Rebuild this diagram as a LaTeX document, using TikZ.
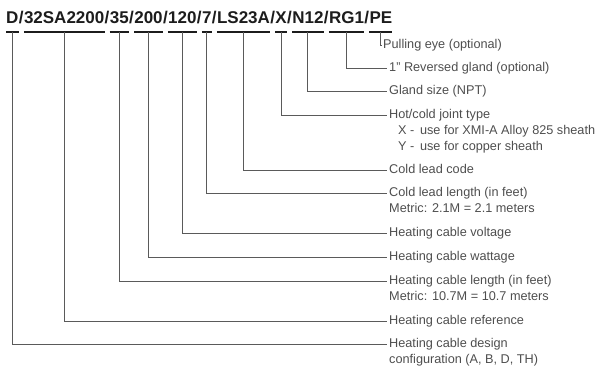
\documentclass[tikz,border=0pt]{standalone}
\usepackage{fontspec}
\setmainfont{Liberation Sans}
\usepackage{tikz}
\usetikzlibrary{positioning}
\definecolor{codeink}{HTML}{1C1C1C}
\definecolor{noteink}{HTML}{4E4E4E}
\definecolor{wireink}{HTML}{5A5A5A}
\tikzstyle{code} = [inner sep=0pt, text depth=0pt, text=codeink, font=\fontsize{17}{20}\selectfont\bfseries]
\tikzstyle{note} = [anchor=west, inner xsep=2pt, inner ysep=1.5pt, text height=9.5pt, text depth=3pt, text=noteink, font=\fontsize{12.7}{15.5}\selectfont]
\tikzstyle{bar} = [line width=2pt, draw=codeink]
\tikzstyle{wire} = [line width=0.9pt, draw=wireink]

\begin{document}
\begin{tikzpicture}[x=1pt, y=-1pt, node distance = 0pt]
		\useasboundingbox (0,0) rectangle (598,366);
		\node (Config) [code, anchor=base west] at (6,23.5) {D};
		\node (Slash1) [code, base right = of Config] {/};
		\node (CableRef) [code, base right = of Slash1] {32SA2200};
		\node (Slash2) [code, base right = of CableRef] {/};
		\node (CableLength) [code, base right = of Slash2] {35};
		\node (Slash3) [code, base right = of CableLength] {/};
		\node (Wattage) [code, base right = of Slash3] {200};
		\node (Slash4) [code, base right = of Wattage] {/};
		\node (Voltage) [code, base right = of Slash4] {120};
		\node (Slash5) [code, base right = of Voltage] {/};
		\node (LeadLength) [code, base right = of Slash5] {7};
		\node (Slash6) [code, base right = of LeadLength] {/};
		\node (LeadCode) [code, base right = of Slash6] {LS23A};
		\node (Slash7) [code, base right = of LeadCode] {/};
		\node (Joint) [code, base right = of Slash7] {X};
		\node (Slash8) [code, base right = of Joint] {/};
		\node (Gland) [code, base right = of Slash8] {N12};
		\node (Slash9) [code, base right = of Gland] {/};
		\node (Reversed) [code, base right = of Slash9] {RG1};
		\node (Slash10) [code, base right = of Reversed] {/};
		\node (Eye) [code, base right = of Slash10] {PE};
		\node (EyeNote) [note] at (381,45) {Pulling eye (optional)};
		\node (ReversedNote) [note] at (387,68) {1" Reversed gland (optional)};
		\node (GlandNote) [note] at (387,91.5) {Gland size (NPT)};
		\node (JointNote) [note] at (387,115) {Hot/cold joint type};
		\node (JointNoteX) [note, anchor=north west] at ([xshift=9pt]JointNote.south west) {X - \,use for XMI-A Alloy 825 sheath};
		\node (JointNoteY) [note, anchor=north west] at (JointNoteX.south west) {Y - \,use for copper sheath};
		\node (LeadCodeNote) [note] at (387,170.5) {Cold lead code};
		\node (LeadLengthNote) [note] at (387,193.5) {Cold lead length (in feet)};
		\node (LeadLengthNote2) [note, anchor=north west] at (LeadLengthNote.south west) {Metric: 2.1M = 2.1 meters};
		\node (VoltageNote) [note] at (387,233.5) {Heating cable voltage};
		\node (WattageNote) [note] at (387,257) {Heating cable wattage};
		\node (CableLengthNote) [note] at (387,281) {Heating cable length (in feet)};
		\node (CableLengthNote2) [note, anchor=north west] at (CableLengthNote.south west) {Metric: 10.7M = 10.7 meters};
		\node (CableRefNote) [note] at (387,321) {Heating cable reference};
		\node (ConfigNote) [note] at (387,344.5) {Heating cable design};
		\node (ConfigNote2) [note, anchor=north west] at (ConfigNote.south west) {configuration (A, B, D, TH)};
		\draw [bar] ([yshift=-8.2pt]Config.south west) -- ([yshift=-8.2pt]Config.south east);
		\draw [bar] ([yshift=-8.2pt]CableRef.south west) -- ([yshift=-8.2pt]CableRef.south east);
		\draw [bar] ([yshift=-8.2pt]CableLength.south west) -- ([yshift=-8.2pt]CableLength.south east);
		\draw [bar] ([yshift=-8.2pt]Wattage.south west) -- ([yshift=-8.2pt]Wattage.south east);
		\draw [bar] ([yshift=-8.2pt]Voltage.south west) -- ([yshift=-8.2pt]Voltage.south east);
		\draw [bar] ([yshift=-8.2pt]LeadLength.south west) -- ([yshift=-8.2pt]LeadLength.south east);
		\draw [bar] ([yshift=-8.2pt]LeadCode.south west) -- ([yshift=-8.2pt]LeadCode.south east);
		\draw [bar] ([yshift=-8.2pt]Joint.south west) -- ([yshift=-8.2pt]Joint.south east);
		\draw [bar] ([yshift=-8.2pt]Gland.south west) -- ([yshift=-8.2pt]Gland.south east);
		\draw [bar] ([yshift=-8.2pt]Reversed.south west) -- ([yshift=-8.2pt]Reversed.south east);
		\draw [bar] ([yshift=-8.2pt]Eye.south west) -- ([yshift=-8.2pt]Eye.south east);
		\draw [wire] ([yshift=-8.2pt]Eye.south) |- (EyeNote.west);
		\draw [wire] ([yshift=-8.2pt]Reversed.south) |- (ReversedNote.west);
		\draw [wire] ([yshift=-8.2pt]Gland.south) |- (GlandNote.west);
		\draw [wire] ([yshift=-8.2pt]Joint.south) |- (JointNote.west);
		\draw [wire] ([yshift=-8.2pt]LeadCode.south) |- (LeadCodeNote.west);
		\draw [wire] ([yshift=-8.2pt]LeadLength.south) |- (LeadLengthNote.west);
		\draw [wire] ([yshift=-8.2pt]Voltage.south) |- (VoltageNote.west);
		\draw [wire] ([yshift=-8.2pt]Wattage.south) |- (WattageNote.west);
		\draw [wire] ([yshift=-8.2pt]CableLength.south) |- (CableLengthNote.west);
		\draw [wire] ([yshift=-8.2pt]CableRef.south) |- (CableRefNote.west);
		\draw [wire] ([yshift=-8.2pt]Config.south) |- (ConfigNote.west);
\end{tikzpicture}
\end{document}
